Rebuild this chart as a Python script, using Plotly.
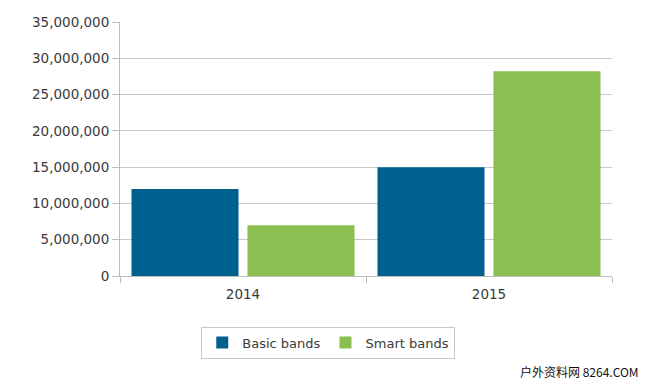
import plotly.graph_objects as go

years = ["2014", "2015"]
basic_bands = [12000000, 15000000]
smart_bands = [7000000, 28200000]
y_ticks = [0, 5000000, 10000000, 15000000, 20000000, 25000000, 30000000, 35000000]
y_tick_labels = ["0", "5,000,000", "10,000,000", "15,000,000", "20,000,000",
                 "25,000,000", "30,000,000", "35,000,000"]

font_family = "DejaVu Sans"

fig = go.Figure()
fig.add_trace(go.Bar(x=years, y=basic_bands, name="Basic bands",
                     marker=dict(color="#00608E", line=dict(width=0))))
fig.add_trace(go.Bar(x=years, y=smart_bands, name="Smart bands",
                     marker=dict(color="#8CBF51", line=dict(width=0))))

fig.update_layout(
    width=650, height=382,
    margin=dict(l=120, r=38, t=22, b=106),
    paper_bgcolor="white", plot_bgcolor="white",
    barmode="group", bargap=0.057, bargroupgap=0.077,
    font=dict(family=font_family, size=13.5, color="#3A3A3A"),
    showlegend=True,
    legend=dict(orientation="h", xref="container", yref="container",
                x=0.505, xanchor="center", y=0.145, yanchor="top",
                bordercolor="#C8C8C8", borderwidth=1, bgcolor="white",
                font=dict(family=font_family, size=13, color="#3A3A3A"),
                itemclick=False),
    xaxis=dict(showline=True, linecolor="#BDBDBD", linewidth=1,
               ticks="outside", tickson="boundaries", ticklen=6, tickcolor="#BDBDBD",
               ticklabelstandoff=6,
               tickfont=dict(size=13.5, color="#3A3A3A"), showgrid=False),
    yaxis=dict(range=[0, 35000000], tickvals=y_ticks, ticktext=y_tick_labels,
               showline=True, linecolor="#BDBDBD", linewidth=1,
               ticks="outside", ticklen=7, tickcolor="#BDBDBD",
               showgrid=True, gridcolor="#C8C8C8", gridwidth=1,
               zeroline=False, tickfont=dict(size=13.5, color="#3A3A3A")),
)

fig.add_annotation(text="户外资料网 8264.COM", xref="paper", yref="paper",
                   x=(641 - 120) / 492, y=-(371 - 276) / 254, xanchor="right", yanchor="middle",
                   showarrow=False, font=dict(family="Noto Sans CJK SC", size=12, color="#111111"))

fig.write_html("out.html", config={"displayModeBar": False},
               post_script="document.body.style.margin='0';document.body.style.padding='0';")
